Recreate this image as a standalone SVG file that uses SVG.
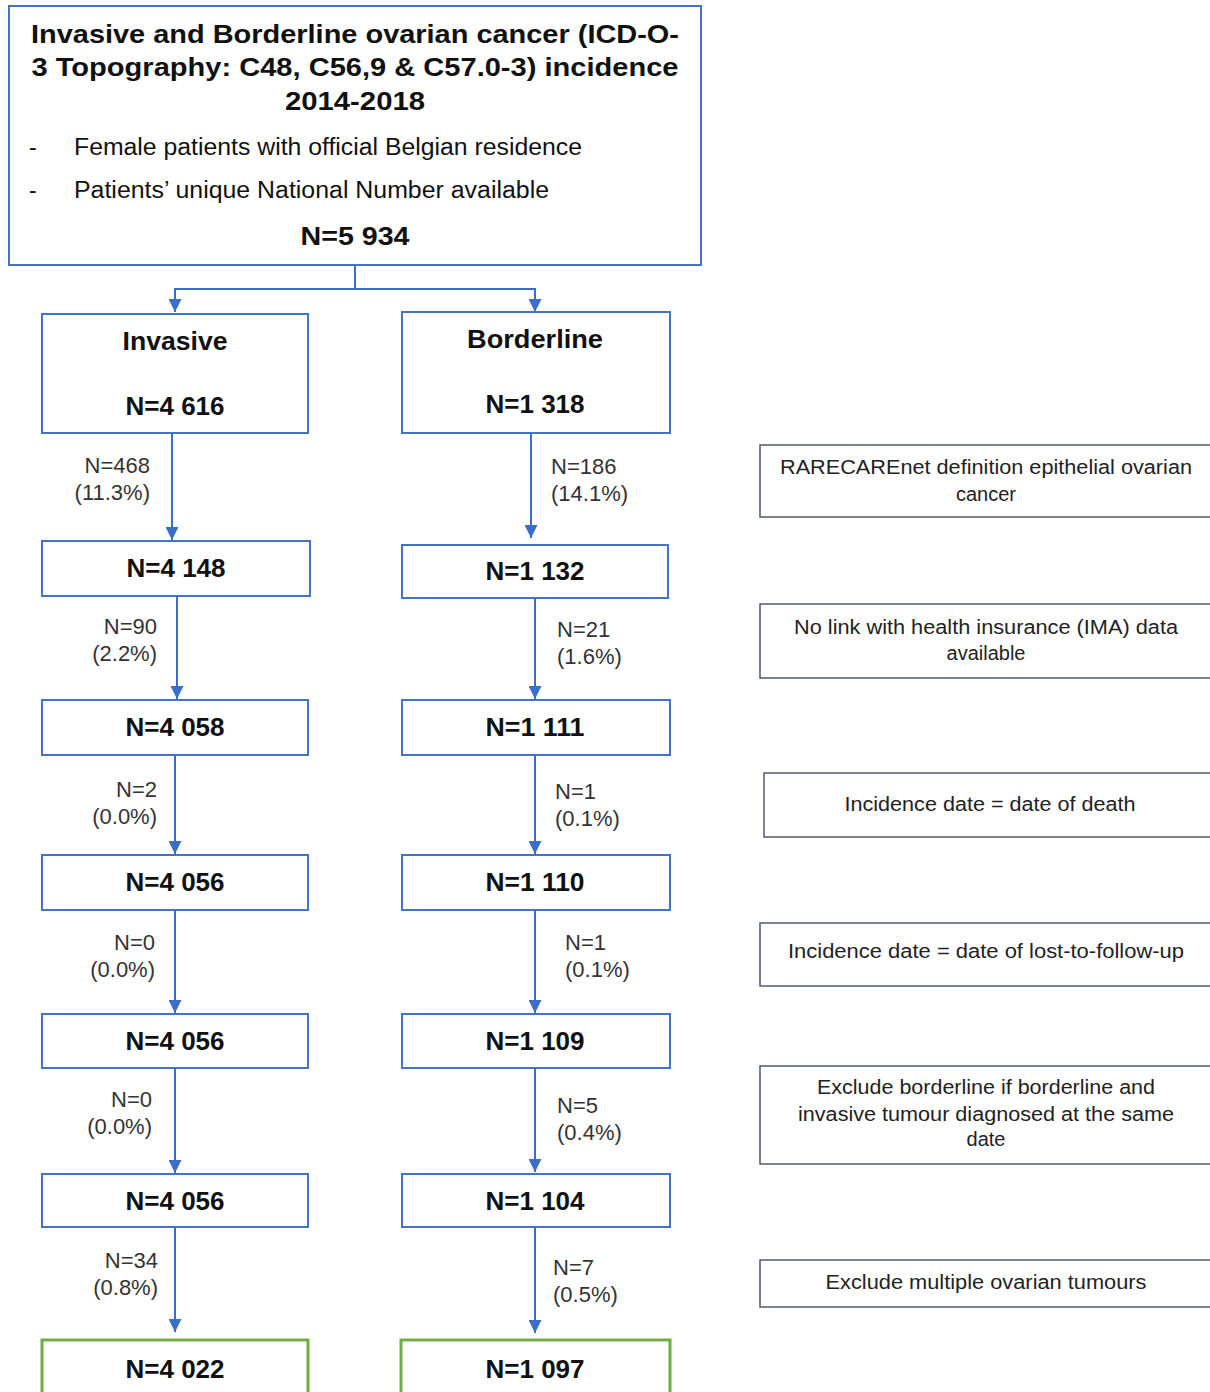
<svg xmlns="http://www.w3.org/2000/svg" width="1210" height="1392" viewBox="0 0 1210 1392">
<defs>
<marker id="ah" viewBox="0 0 14 14" refX="14" refY="7" markerWidth="14" markerHeight="13" markerUnits="userSpaceOnUse" orient="auto">
<path d="M0,0 L14,7 L0,14 z" fill="#3a6fc9"/>
</marker>
</defs>
<style>
.b{fill:#fff;stroke:#4472c4;stroke-width:2}
.g{fill:#fff;stroke:#70ad47;stroke-width:3}
.r{fill:#fff;stroke:#505a6e;stroke-width:1.5}
.t{font-family:"Liberation Sans",Arial,sans-serif;fill:#111}
.hb{font-size:26px;font-weight:bold;text-anchor:middle}
.nb{font-size:26px;font-weight:bold;text-anchor:middle}
.bl{font-size:23px}
.lab{font-size:22px;fill:#333}
.rt{font-size:20px;text-anchor:middle;fill:#222}
.c{fill:none;stroke:#3a6fc9;stroke-width:2}
</style>
<g id="connectors">
<path class="c" d="M355,265 V289 H175 V312" marker-end="url(#ah)"/>
<path class="c" d="M355,289 H535 V312" marker-end="url(#ah)"/>
<path class="c" d="M172,433 V540" marker-end="url(#ah)"/>
<path class="c" d="M177,596 V699" marker-end="url(#ah)"/>
<path class="c" d="M175,755 V854" marker-end="url(#ah)"/>
<path class="c" d="M175,910 V1013" marker-end="url(#ah)"/>
<path class="c" d="M175,1068 V1173" marker-end="url(#ah)"/>
<path class="c" d="M175,1227 V1332" marker-end="url(#ah)"/>
<path class="c" d="M531,433 V538" marker-end="url(#ah)"/>
<path class="c" d="M535,598 V699" marker-end="url(#ah)"/>
<path class="c" d="M535,755 V854" marker-end="url(#ah)"/>
<path class="c" d="M535,910 V1013" marker-end="url(#ah)"/>
<path class="c" d="M535,1068 V1172" marker-end="url(#ah)"/>
<path class="c" d="M535,1227 V1333" marker-end="url(#ah)"/>
<g class="t lab" text-anchor="end">
<text x="150" y="473">N=468</text><text x="150" y="500">(11.3%)</text>
<text x="157" y="634">N=90</text><text x="157" y="661">(2.2%)</text>
<text x="157" y="797">N=2</text><text x="157" y="824">(0.0%)</text>
<text x="155" y="950">N=0</text><text x="155" y="977">(0.0%)</text>
<text x="152" y="1107">N=0</text><text x="152" y="1134">(0.0%)</text>
<text x="158" y="1268">N=34</text><text x="158" y="1295">(0.8%)</text>
</g>
<g class="t lab">
<text x="551" y="474">N=186</text><text x="551" y="501">(14.1%)</text>
<text x="557" y="637">N=21</text><text x="557" y="664">(1.6%)</text>
<text x="555" y="799">N=1</text><text x="555" y="826">(0.1%)</text>
<text x="565" y="950">N=1</text><text x="565" y="977">(0.1%)</text>
<text x="557" y="1113">N=5</text><text x="557" y="1140">(0.4%)</text>
<text x="553" y="1275">N=7</text><text x="553" y="1302">(0.5%)</text>
</g>
</g>
<g id="top">
<rect class="b" x="9" y="6" width="692" height="259"/>
<text class="t hb" x="355" y="43" textLength="648" lengthAdjust="spacingAndGlyphs">Invasive and Borderline ovarian cancer (ICD-O-</text>
<text class="t hb" x="355" y="76" textLength="647" lengthAdjust="spacingAndGlyphs">3 Topography: C48, C56,9 &amp; C57.0-3) incidence</text>
<text class="t hb" x="355" y="110" textLength="140" lengthAdjust="spacingAndGlyphs">2014-2018</text>
<text class="t bl" x="29" y="155">-</text>
<text class="t bl" x="74" y="155" textLength="508" lengthAdjust="spacingAndGlyphs">Female patients with official Belgian residence</text>
<text class="t bl" x="29" y="198">-</text>
<text class="t bl" x="74" y="198" textLength="475" lengthAdjust="spacingAndGlyphs">Patients’ unique National Number available</text>
<text class="t hb" x="355" y="245" textLength="109" lengthAdjust="spacingAndGlyphs">N=5 934</text>
</g>
<g id="invasive">
<rect class="b" x="42" y="314" width="266" height="119"/>
<text class="t nb" x="175" y="350" textLength="105" lengthAdjust="spacingAndGlyphs">Invasive</text>
<text class="t nb" x="175" y="415" textLength="99" lengthAdjust="spacingAndGlyphs">N=4 616</text>
</g>
<g id="borderline">
<rect class="b" x="402" y="312" width="268" height="121"/>
<text class="t nb" x="535" y="348" textLength="136" lengthAdjust="spacingAndGlyphs">Borderline</text>
<text class="t nb" x="535" y="413" textLength="99" lengthAdjust="spacingAndGlyphs">N=1 318</text>
</g>
<g id="i1"><rect class="b" x="42" y="541" width="268" height="55"/><text class="t nb" x="176" y="577" textLength="99" lengthAdjust="spacingAndGlyphs">N=4 148</text></g>
<g id="i2"><rect class="b" x="42" y="700" width="266" height="55"/><text class="t nb" x="175" y="736" textLength="99" lengthAdjust="spacingAndGlyphs">N=4 058</text></g>
<g id="i3"><rect class="b" x="42" y="855" width="266" height="55"/><text class="t nb" x="175" y="891" textLength="99" lengthAdjust="spacingAndGlyphs">N=4 056</text></g>
<g id="i4"><rect class="b" x="42" y="1014" width="266" height="54"/><text class="t nb" x="175" y="1050" textLength="99" lengthAdjust="spacingAndGlyphs">N=4 056</text></g>
<g id="i5"><rect class="b" x="42" y="1174" width="266" height="53"/><text class="t nb" x="175" y="1210" textLength="99" lengthAdjust="spacingAndGlyphs">N=4 056</text></g>
<g id="i6"><rect class="g" x="42" y="1340" width="266" height="60"/><text class="t nb" x="175" y="1378" textLength="99" lengthAdjust="spacingAndGlyphs">N=4 022</text></g>
<g id="b1"><rect class="b" x="402" y="545" width="266" height="53"/><text class="t nb" x="535" y="580" textLength="99" lengthAdjust="spacingAndGlyphs">N=1 132</text></g>
<g id="b2"><rect class="b" x="402" y="700" width="268" height="55"/><text class="t nb" x="535" y="736" textLength="99" lengthAdjust="spacingAndGlyphs">N=1 111</text></g>
<g id="b3"><rect class="b" x="402" y="855" width="268" height="55"/><text class="t nb" x="535" y="891" textLength="99" lengthAdjust="spacingAndGlyphs">N=1 110</text></g>
<g id="b4"><rect class="b" x="402" y="1014" width="268" height="54"/><text class="t nb" x="535" y="1050" textLength="99" lengthAdjust="spacingAndGlyphs">N=1 109</text></g>
<g id="b5"><rect class="b" x="402" y="1174" width="268" height="53"/><text class="t nb" x="535" y="1210" textLength="99" lengthAdjust="spacingAndGlyphs">N=1 104</text></g>
<g id="b6"><rect class="g" x="401" y="1340" width="269" height="60"/><text class="t nb" x="535" y="1378" textLength="99" lengthAdjust="spacingAndGlyphs">N=1 097</text></g>
<g id="r1"><rect class="r" x="760" y="445" width="460" height="72"/>
<text class="t rt" x="986" y="474" textLength="412" lengthAdjust="spacingAndGlyphs">RARECAREnet  definition epithelial ovarian</text>
<text class="t rt" x="986" y="501">cancer</text></g>
<g id="r2"><rect class="r" x="760" y="604" width="460" height="74"/>
<text class="t rt" x="986" y="634" textLength="384" lengthAdjust="spacingAndGlyphs">No link  with health insurance (IMA) data</text>
<text class="t rt" x="986" y="660">available</text></g>
<g id="r3"><rect class="r" x="764" y="773" width="456" height="64"/>
<text class="t rt" x="990" y="811" textLength="291" lengthAdjust="spacingAndGlyphs">Incidence date = date of death</text></g>
<g id="r4"><rect class="r" x="760" y="923" width="460" height="63"/>
<text class="t rt" x="986" y="958" textLength="396" lengthAdjust="spacingAndGlyphs">Incidence date = date of lost-to-follow-up</text></g>
<g id="r5"><rect class="r" x="760" y="1066" width="460" height="98"/>
<text class="t rt" x="986" y="1094" textLength="338" lengthAdjust="spacingAndGlyphs">Exclude borderline if borderline and</text>
<text class="t rt" x="986" y="1121" textLength="376" lengthAdjust="spacingAndGlyphs">invasive tumour diagnosed at the same</text>
<text class="t rt" x="986" y="1146">date</text></g>
<g id="r6"><rect class="r" x="760" y="1260" width="460" height="47"/>
<text class="t rt" x="986" y="1289" textLength="321" lengthAdjust="spacingAndGlyphs">Exclude multiple  ovarian tumours</text></g>
</svg>
